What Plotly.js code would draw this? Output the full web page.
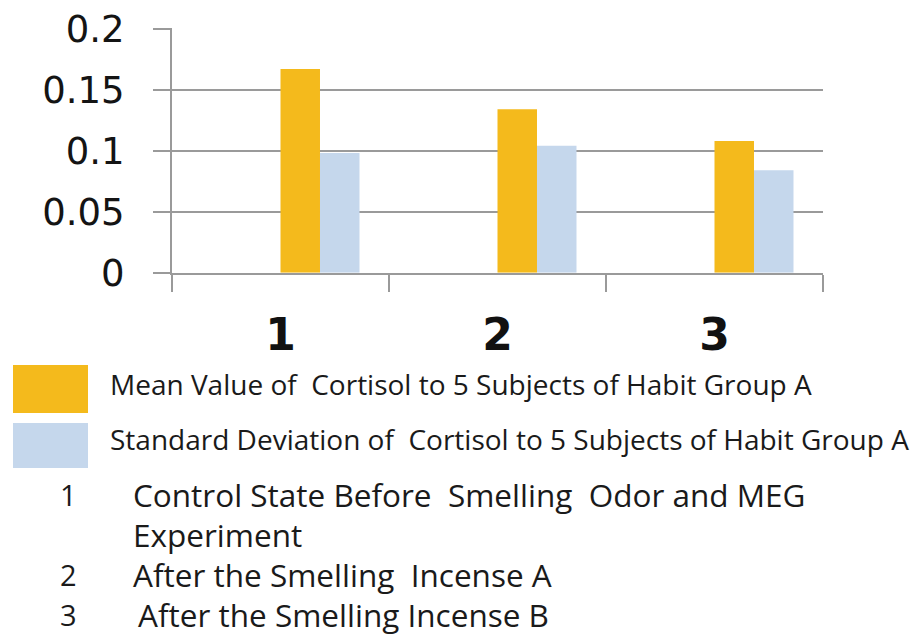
<!DOCTYPE html>
<html>
<head>
<meta charset="utf-8">
<script src="https://cdn.plot.ly/plotly-3.0.1.min.js"></script>
<style>html,body{margin:0;padding:0;background:#fff;}#chart{width:923px;height:638px;}</style>
</head>
<body>
<div id="chart"></div>
<script>
// ---- data ----
const categories = ['1', '2', '3'];
const meanValues = [0.167, 0.134, 0.108];
const sdValues = [0.098, 0.104, 0.084];
const seriesNames = [
  'Mean Value of \u00A0Cortisol to 5 Subjects of Habit Group A',
  'Standard Deviation of \u00A0Cortisol to 5 Subjects of Habit Group A'
];
const seriesColors = ['#F4BA1C', '#C5D7EC'];
const stateNumbers = ['1', '2', '3'];
const stateLines = [
  ['Control State Before \u00A0Smelling \u00A0Odor and MEG', 'Experiment'],
  ['After the Smelling \u00A0Incense A'],
  ['After the Smelling Incense B']
];
const yTicks = [0, 0.05, 0.1, 0.15, 0.2];

// ---- helpers: pixel -> paper ----
const W = 923, H = 638;
const px = x => x / W;
const py = y => 1 - y / H;

const gridCol = '#9a9a9a';
const barW = 0.182;

const traces = [
  {type: 'bar', x: categories, y: meanValues, name: seriesNames[0],
   marker: {color: seriesColors[0], line: {width: 0}}, width: barW, offset: 0},
  {type: 'bar', x: categories, y: sdValues, name: seriesNames[1],
   marker: {color: seriesColors[1], line: {width: 0}}, width: barW, offset: barW}
];

const shapes = [];
const annotations = [];
const swatchY = [[365, 413], [423, 468]];
const labelY = [384, 439];
seriesNames.forEach((n, i) => {
  shapes.push({type: 'rect', xref: 'paper', yref: 'paper',
    x0: px(13), x1: px(88), y0: py(swatchY[i][1]), y1: py(swatchY[i][0]),
    fillcolor: seriesColors[i], line: {width: 0}});
  annotations.push({xref: 'paper', yref: 'paper', x: px(108), y: py(labelY[i]),
    xanchor: 'left', yanchor: 'middle', showarrow: false, text: n,
    font: {family: 'Open Sans', size: 28, color: '#1a1a1a'}});
});

let lineY = 494;
const lineStep = 40;
stateNumbers.forEach((num, i) => {
  annotations.push({xref: 'paper', yref: 'paper', x: px(68), y: py(lineY),
    xanchor: 'center', yanchor: 'middle', showarrow: false, text: num,
    font: {family: 'Open Sans', size: 29, color: '#1a1a1a'}, borderpad: 0});
  stateLines[i].forEach((t, j) => {
    annotations.push({xref: 'paper', yref: 'paper', x: px(i === 2 ? 137 : 132), y: py(lineY),
      xanchor: 'left', yanchor: 'middle', showarrow: false, text: t,
      font: {family: 'Open Sans', size: 31.5, color: '#1a1a1a'}, borderpad: 0});
    lineY += lineStep;
  });
});

const layout = {
  width: W, height: H,
  margin: {l: 0, r: 0, t: 0, b: 0},
  paper_bgcolor: '#fff', plot_bgcolor: '#fff',
  showlegend: false,
  barmode: 'overlay',
  xaxis: {
    type: 'category',
    domain: [px(172), px(823)],
    range: [-0.5, 2.5],
    showgrid: false, zeroline: false,
    showline: true, linecolor: gridCol, linewidth: 2,
    ticks: 'outside', tickson: 'boundaries', ticklen: 17, tickwidth: 2, tickcolor: gridCol,
    tickfont: {family: 'DejaVu Sans', size: 44, color: '#111', weight: 'bold'},
    ticklabelstandoff: 22,
    automargin: false, fixedrange: true
  },
  yaxis: {
    domain: [py(272.7), py(28)],
    range: [0, 0.2005],
    tickvals: yTicks,
    showgrid: true, gridcolor: gridCol, gridwidth: 2,
    zeroline: false,
    showline: true, linecolor: gridCol, linewidth: 2,
    ticks: 'outside', ticklen: 17, tickwidth: 2, tickcolor: gridCol,
    tickfont: {family: 'DejaVu Sans', size: 37, color: '#141414'},
    ticklabelstandoff: 21,
    automargin: false, fixedrange: true
  },
  shapes: shapes,
  annotations: annotations
};

Plotly.newPlot('chart', traces, layout, {displayModeBar: false, staticPlot: true});
</script>
</body>
</html>
